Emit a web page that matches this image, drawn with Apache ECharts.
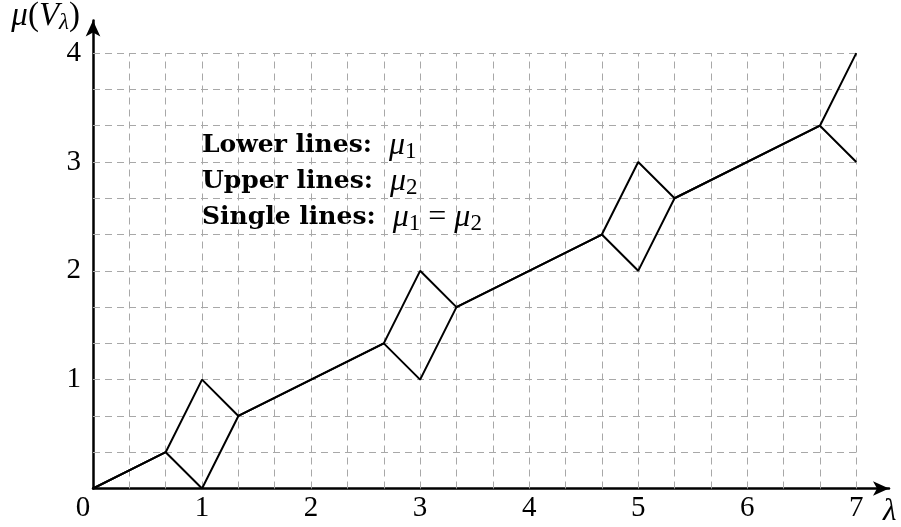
<!DOCTYPE html>
<html><head><meta charset="utf-8">
<script src="https://cdn.jsdelivr.net/npm/echarts@6/dist/echarts.min.js"></script>
<style>html,body{margin:0;padding:0;background:#fff}#c{width:901px;height:527px}</style>
</head><body><div id="c"></div>
<script>
var xTicks = [0, 1, 2, 3, 4, 5, 6, 7];
var yTicks = [1, 2, 3, 4];
var gridX = [1/3, 2/3, 1, 4/3, 5/3, 2, 7/3, 8/3, 3, 10/3, 11/3, 4, 13/3, 14/3, 5, 16/3, 17/3, 6, 19/3, 20/3, 7];
var gridY = [1/3, 2/3, 1, 4/3, 5/3, 2, 7/3, 8/3, 3, 10/3, 11/3, 4];
var lowerLine = [[0,0],[2/3,1/3],[1,0],[4/3,2/3],[8/3,4/3],[3,1],[10/3,5/3],[14/3,7/3],[5,2],[16/3,8/3],[20/3,10/3],[7,3]];
var upperLine = [[0,0],[2/3,1/3],[1,1],[4/3,2/3],[8/3,4/3],[3,2],[10/3,5/3],[14/3,7/3],[5,3],[16/3,8/3],[20/3,10/3],[7,4]];
var legendPos = [[1, 3.15], [1, 2.82], [1, 2.49]];
var legendText = [
  '{b|Lower lines:}{m|μ}{s|1}',
  '{b|Upper lines:}{m|μ}{s|2}',
  '{b|Single lines:}{m|μ}{s|1}{r|=}{m2|μ}{s|2}'
];

var FONT = 'Liberation Serif';
var BFONT = 'DejaVu Serif';
var gridLines = [];
gridX.forEach(function(v){ gridLines.push([{coord:[v,0]},{coord:[v,4]}]); });
gridY.forEach(function(v){ gridLines.push([{coord:[0,v]},{coord:[7,v]}]); });

var rich = {
  b: {fontFamily: BFONT, fontWeight: 'bold', fontSize: 25, color: '#000'},
  m: {fontFamily: FONT, fontStyle: 'italic', fontSize: 32, color: '#000', padding: [0, 0, 0, 17]},
  m2: {fontFamily: FONT, fontStyle: 'italic', fontSize: 32, color: '#000'},
  s: {fontFamily: FONT, fontSize: 23, color: '#000', padding: [13, 0, 0, 0]},
  r: {fontFamily: FONT, fontSize: 32, color: '#000', padding: [0, 8, 0, 8]}
};

var chart = echarts.init(document.getElementById('c'), null, {renderer: 'canvas'});
chart.setOption({
  animation: false,
  backgroundColor: '#fff',
  grid: {left: 93, right: 12, top: 20, bottom: 38, containLabel: false},
  xAxis: {
    type: 'value', min: 0, max: 7.3,
    axisLine: {show: true, onZero: false, lineStyle: {color: '#000', width: 2.5}, symbol: ['none', 'arrow'], symbolSize: [11, 16]},
    axisTick: {show: false},
    splitLine: {show: false},
    axisLabel: {
      customValues: xTicks, margin: 5, fontFamily: FONT, fontSize: 29, color: '#000',
      formatter: function(v){ return v === 0 ? '{z|0}' : String(v); },
      rich: {z: {fontFamily: FONT, fontSize: 29, color: '#000', padding: [0, 20, 0, 0]}}
    },
    name: '{it|λ}', nameLocation: 'end', nameGap: -6,
    nameTextStyle: {rich: {it: {fontFamily: FONT, fontStyle: 'italic', fontSize: 31, color: '#000', padding: [46, 0, 0, 0]}}, align: 'left', verticalAlign: 'middle'}
  },
  yAxis: {
    type: 'value', min: 0, max: 4.3,
    axisLine: {show: true, onZero: false, lineStyle: {color: '#000', width: 2.5}, symbol: ['none', 'arrow'], symbolSize: [11, 16]},
    axisTick: {show: false},
    splitLine: {show: false},
    axisLabel: {customValues: yTicks, margin: 12, fontFamily: FONT, fontSize: 29, color: '#000'},
    name: '{m|μ}{r|(}{m|V}{s|λ}{r|)}', nameLocation: 'end', nameGap: 4,
    nameTextStyle: {align: 'right', verticalAlign: 'middle', padding: [0, 13, 0, 0], rich: {
      m: {fontFamily: FONT, fontStyle: 'italic', fontSize: 33, color: '#000'},
      r: {fontFamily: FONT, fontSize: 33, color: '#000'},
      s: {fontFamily: FONT, fontStyle: 'italic', fontSize: 23, color: '#000', padding: [13, 0, 0, 0]}
    }}
  },
  series: [
    {type: 'line', data: [], silent: true, z: 1,
     markLine: {silent: true, symbol: ['none', 'none'], label: {show: false},
       lineStyle: {color: '#a8a8a8', width: 1, type: [7, 5]}, data: gridLines}},
    {type: 'line', data: lowerLine, showSymbol: false, z: 5,
     lineStyle: {color: '#000', width: 2}},
    {type: 'line', data: upperLine, showSymbol: false, z: 5,
     lineStyle: {color: '#000', width: 2}},
    {type: 'scatter', symbolSize: 0, z: 6,
     data: legendPos.map(function(p, i){ return {value: p, label: {formatter: legendText[i]}}; }),
     label: {show: true, position: 'right', distance: 0, align: 'left', verticalAlign: 'middle',
       color: '#000', textBorderWidth: 0, opacity: 1, rich: rich}}
  ]
});
</script></body></html>
